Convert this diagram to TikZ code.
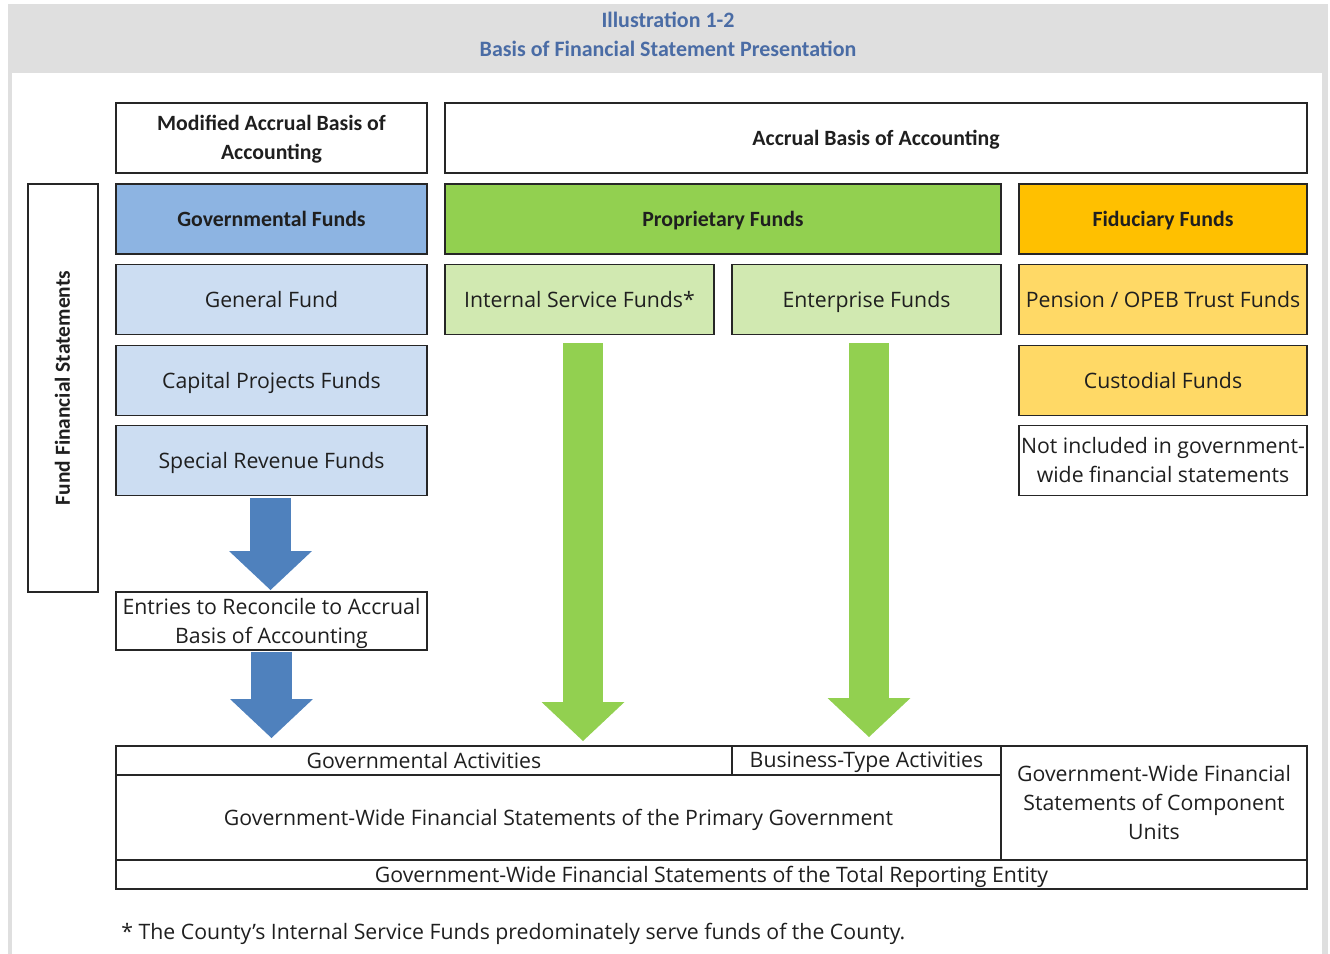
\documentclass[tikz,border=0pt]{standalone}
\usepackage{fontspec}
\setmainfont{Open Sans}
\newfontfamily\carlito{Carlito}
\usetikzlibrary{arrows.meta,calc}

\definecolor{boxline}{RGB}{38,38,38}
\definecolor{titleblue}{RGB}{74,108,165}
\definecolor{headgray}{RGB}{223,223,223}
\definecolor{govdark}{RGB}{141,180,226}
\definecolor{govlight}{RGB}{204,221,242}
\definecolor{govarrow}{RGB}{79,129,189}
\definecolor{propdark}{RGB}{146,208,80}
\definecolor{proplight}{RGB}{209,233,177}
\definecolor{fiddark}{RGB}{255,192,0}
\definecolor{fidlight}{RGB}{255,217,102}

\tikzset{
	fund/.style={draw=boxline,line width=1pt,fill=white,inner sep=0pt,outer sep=0pt,align=center,text=black!88,
		minimum width=6.22cm,minimum height=1.4cm,text depth=0.06em,font=\fontsize{12.1}{16.5}\selectfont},
	fundhead/.style={fund,font=\carlito\bfseries\fontsize{12.4}{16.5}\selectfont},
	tablecell/.style={fund,minimum height=0.58cm},
	titletext/.style={text=titleblue,font=\carlito\bfseries\fontsize{12.5}{14}\selectfont},
	blockarrow/.style={line width=0.81cm,-{Triangle[width=1.66cm,length=0.78cm,line width=0pt]}}
}

\begin{document}
\begin{tikzpicture}[x=0.02cm,y=-0.02cm]
	\useasboundingbox (0,0) rectangle (1330,954);
	\fill[headgray] (8,4) rectangle (1328,73);
	\fill[headgray] (8,73) rectangle (12,954);
	\fill[headgray] (1322,73) rectangle (1328,954);
	\node[titletext] (title) at (668,20) {Illustration 1-2};
	\node[titletext] (subtitle) at (668,49) {Basis of Financial Statement Presentation};

	\node[fundhead] (modacc) at (271.5,138) {Modified Accrual Basis of\\Accounting};
	\node[fundhead,minimum width=17.24cm] (acc) at (876,138) {Accrual Basis of Accounting};
	\node[fundhead,rotate=90,minimum width=8.16cm,minimum height=1.4cm,font=\carlito\bfseries\fontsize{12.2}{14}\selectfont] (ffs) at (63,388) {Fund Financial Statements};

	\node[fundhead,fill=govdark] (govfunds) at (271.5,219) {Governmental Funds};
	\node[fund,fill=govlight] (general) at (271.5,299.5) {General Fund};
	\node[fund,fill=govlight] (capital) at (271.5,380.5) {Capital Projects Funds};
	\node[fund,fill=govlight] (special) at (271.5,460.5) {Special Revenue Funds};
	\node[fund,minimum height=1.16cm] (entries) at (271.5,621) {Entries to Reconcile to Accrual\\Basis of Accounting};

	\node[fundhead,fill=propdark,minimum width=11.12cm] (propfunds) at (723,219) {Proprietary Funds};
	\node[fund,fill=proplight,minimum width=5.38cm] (internal) at (579.5,299.5) {Internal Service Funds*};
	\node[fund,fill=proplight,minimum width=5.38cm] (enterprise) at (866.5,299.5) {Enterprise Funds};

	\node[fundhead,fill=fiddark,minimum width=5.76cm] (fidfunds) at (1163,219) {Fiduciary Funds};
	\node[fund,fill=fidlight,minimum width=5.76cm] (pension) at (1163,299.5) {Pension / OPEB Trust Funds};
	\node[fund,fill=fidlight,minimum width=5.76cm] (custodial) at (1163,380.5) {Custodial Funds};
	\node[fund,minimum width=5.76cm] (notincl) at (1163,460.5) {Not included in government-\\wide financial statements};

	\node[tablecell,minimum width=12.32cm] (govact) at (424,760.5) {Governmental Activities};
	\node[tablecell,minimum width=5.38cm] (busact) at (866.5,760.5) {Business-Type Activities};
	\node[fund,minimum width=17.7cm,minimum height=1.7cm] (primary) at (558.5,817.5) {Government-Wide Financial Statements of the Primary Government};
	\node[fund,minimum width=6.12cm,minimum height=2.28cm] (component) at (1154,803) {Government-Wide Financial\\Statements of Component\\Units};
	\node[tablecell,minimum width=23.82cm] (total) at (711.5,874.5) {Government-Wide Financial Statements of the Total Reporting Entity};

	\draw[blockarrow,govarrow] ($(special.south)+(-1,3)$) -- ($(entries.north)+(-1,-2)$);
	\draw[blockarrow,govarrow] ($(entries.south)+(0,2)$) -- ($(entries.south |- govact.north)+(0,-8)$);
	\draw[blockarrow,propdark] ($(internal.south)+(3.5,9)$) -- ($(internal.south |- govact.north)+(3.5,-5)$);
	\draw[blockarrow,propdark] ($(enterprise.south)+(2.5,9)$) -- ($(enterprise.south |- govact.north)+(2.5,-9)$);

	\node[anchor=west,inner sep=0pt,text=black!88,font=\fontsize{12.1}{14}\selectfont] (note) at (121,934) {* The County's Internal Service Funds predominately serve funds of the County.};
\end{tikzpicture}
\end{document}
